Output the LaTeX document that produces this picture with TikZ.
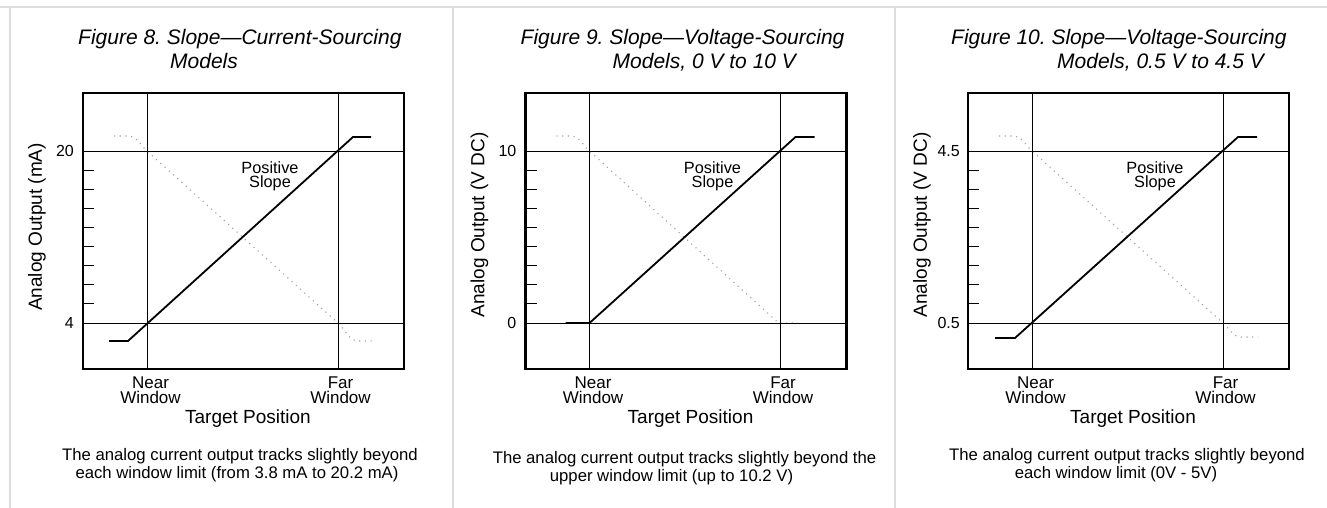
\documentclass[tikz,border=0pt]{standalone}
\usepackage{fontspec}
\setmainfont{Liberation Sans}
\definecolor{sepgray}{HTML}{DCDCDC}
\definecolor{dotgray}{HTML}{A0A0A0}
\tikzset{
  frame/.style={line width=2.6pt},
  gridline/.style={line width=1pt},
  slopeline/.style={line width=1.8pt, line join=miter},
  mirror/.style={dotgray, line width=1.1pt, dash pattern=on 1.1pt off 4.6pt},
  sepline/.style={sepgray, line width=2pt},
  titletext/.style={font=\itshape\fontsize{21}{24}\selectfont, anchor=base west, inner sep=0pt},
  ticklabel/.style={font=\fontsize{16}{16}\selectfont, anchor=east, inner sep=0pt},
  ylabel/.style={font=\fontsize{19}{19}\selectfont, rotate=90, inner sep=0pt},
  winlabel/.style={font=\fontsize{17}{15}\selectfont, anchor=base, inner sep=0pt},
  slopelabel/.style={font=\fontsize{16.3}{14}\selectfont, anchor=base, inner sep=0pt},
  xlabel/.style={font=\fontsize{19}{19}\selectfont, anchor=base, inner sep=0pt},
  captext/.style={font=\fontsize{16.7}{18}\selectfont, anchor=base, inner sep=0pt},
}
\newcommand{\panelgrid}{%
  \draw[gridline] (147,93) -- (147,369);
  \draw[gridline] (338,93) -- (338,369);
  \draw[gridline] (83,151) -- (404,151);
  \draw[gridline] (83,323) -- (404,323);
  \foreach \k in {1,...,8} \draw[gridline] (83,151+19.11*\k) -- (94,151+19.11*\k);
  \draw[frame] (83,93) rectangle (404,369);
  \node[winlabel] (near1) at (150.5,388) {Near};
  \node[winlabel] (near2) at (150.5,403.5) {Window};
  \node[winlabel] (far1) at (340.5,388) {Far};
  \node[winlabel] (far2) at (340.5,403.5) {Window};
  \node[xlabel] (xl) at (248,423) {Target Position};
  \node[slopelabel] (pos1) at (270,173.5) {Positive};
  \node[slopelabel] (pos2) at (270,187.8) {Slope};
}
\begin{document}
\begin{tikzpicture}[x=1pt,y=-1pt]
\useasboundingbox (0,0) rectangle (1327,508);
\fill[white] (0,0) rectangle (1327,508);
% separators
\draw[sepline] (0,7) -- (1327,7);
\draw[sepline] (10,7) -- (10,508);
\draw[sepline] (452.5,7) -- (452.5,508);
\draw[sepline] (895,7) -- (895,508);

% ---------- Panel 1 ----------
\begin{scope}
  \node[titletext] (t1a) at (78,44.5) {Figure 8.\ Slope—Current-Sourcing};
  \node[titletext] (t1b) at (170,69) {Models};
  \draw[mirror] (114,136) -- (128,136) .. controls (137,136) and (140,145) .. (147,151)
     -- (338,323) .. controls (345,329) and (349,341) .. (358,341) -- (376,341);
  \panelgrid
  \draw[slopeline] (109,341) -- (128,341) -- (353,137) -- (371,137);
  \node[ticklabel] (y20) at (74,151) {20};
  \node[ticklabel] (y4) at (74,323) {4};
  \node[ylabel] (yl1) at (37,227) {Analog Output (mA)};
  \node[captext] (c1a) at (240,460) {The analog current output tracks slightly beyond};
  \node[captext] (c1b) at (237,478) {each window limit (from 3.8 mA to 20.2 mA)};
\end{scope}

% ---------- Panel 2 ----------
\begin{scope}[xshift=442.5pt]
  \node[titletext] (t2a) at (78,44.5) {Figure 9.\ Slope—Voltage-Sourcing};
  \node[titletext] (t2b) at (170,69) {Models, 0 V to 10 V};
  \draw[mirror] (114,136) -- (128,136) .. controls (137,136) and (140,145) .. (147,151)
     -- (336,323) -- (355,323);
  \panelgrid
  \draw[slopeline] (123,323) -- (147,323) -- (353,137) -- (372,137);
  \node[ticklabel] (y10) at (74,151) {10};
  \node[ticklabel] (y0) at (74,323) {0};
  \node[ylabel] (yl2) at (37,225) {Analog Output (V DC)};
  \node[captext] (c2a) at (242,463) {The analog current output tracks slightly beyond the};
  \node[captext] (c2b) at (229,481) {upper window limit (up to 10.2 V)};
\end{scope}

% ---------- Panel 3 ----------
\begin{scope}[xshift=885pt]
  \node[titletext] (t3a) at (66,44.5) {Figure 10.\ Slope—Voltage-Sourcing};
  \node[titletext] (t3b) at (172,69) {Models, 0.5 V to 4.5 V};
  \draw[mirror] (114,136) -- (128,136) .. controls (137,136) and (140,145) .. (147,151)
     -- (338,323) .. controls (344,328) and (348,337) .. (356,337) -- (373,337);
  \panelgrid
  \draw[slopeline] (110,338) -- (130,338) -- (353,137) -- (372,137);
  \node[ticklabel] (y45) at (75,151) {4.5};
  \node[ticklabel] (y05) at (75,323) {0.5};
  \node[ylabel] (yl3) at (37,225) {Analog Output (V DC)};
  \node[captext] (c3a) at (242,460) {The analog current output tracks slightly beyond};
  \node[captext] (c3b) at (231,478) {each window limit (0V - 5V)};
\end{scope}
\end{tikzpicture}
\end{document}
